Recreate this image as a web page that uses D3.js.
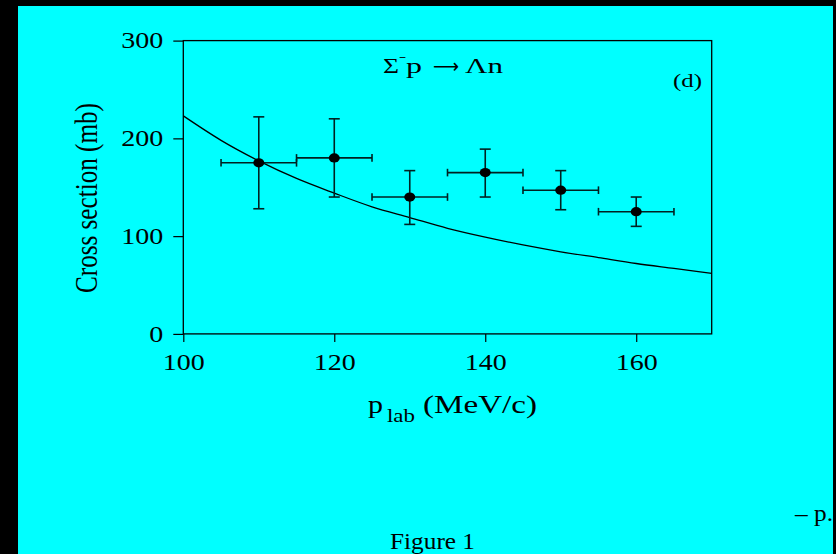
<!DOCTYPE html>
<html>
<head>
<meta charset="utf-8">
<script src="https://cdn.jsdelivr.net/npm/d3@7"></script>
<style>
  body { margin: 0; background: #000; }
  svg { display: block; }
  text { font-family: "Liberation Serif", "Times New Roman", serif; fill: #000; }
</style>
</head>
<body>
<div id="chart"></div>
<script>
// measured points (Sigma- p -> Lambda n)
const pLab = [110, 120, 130, 140, 150, 160];
const sigma = [175, 180, 140, 165, 147, 125];
const sigmaLow = [128, 140, 112, 140, 127, 110];
const sigmaHigh = [222, 220, 167, 189, 167, 140];
const binLow = [105, 115, 125, 135, 145, 155];
const binHigh = [115, 125, 135, 145, 155, 165];

// theory curve
const curveP = [100, 105, 110, 115, 120, 125, 130, 135, 140, 145, 150, 155, 160, 165, 170];
const curveSigma = [223, 198, 177, 159, 144, 130, 119, 108, 99, 91, 84, 78, 72, 67, 62];

const xTicks = [100, 120, 140, 160];
const yTicks = [0, 100, 200, 300];

function main() {
  var W = 836, H = 554;
  var left = 183.3, right = 711.7, top = 40.6, bottom = 333.9;

  var svg = d3.select("#chart")
    .append("svg")
    .attr("width", W)
    .attr("height", H);

  // black page with cyan panel
  svg.append("rect").attr("width", W).attr("height", H).attr("fill", "#000");
  svg.append("rect")
    .attr("x", 18).attr("y", 6)
    .attr("width", 833 - 18).attr("height", H - 6)
    .attr("fill", "#00ffff");

  var x = d3.scaleLinear().domain([100, 170]).range([left, right]);
  var y = d3.scaleLinear().domain([0, 300]).range([bottom, top]);

  // axes
  var gx = svg.append("g")
    .attr("transform", "translate(0," + bottom + ")")
    .call(d3.axisBottom(x).tickValues(xTicks).tickSize(8).tickSizeOuter(0).tickPadding(12).tickFormat(d3.format("d")));
  var gy = svg.append("g")
    .attr("transform", "translate(" + left + ",0)")
    .call(d3.axisLeft(y).tickValues(yTicks).tickSize(10).tickSizeOuter(0).tickPadding(10).tickFormat(d3.format("d")));

  [gx, gy].forEach(function(g) {
    g.attr("font-family", null).attr("font-size", null);
    g.select(".domain").remove();
    g.selectAll(".tick line").attr("stroke", "#000").attr("stroke-width", 1.2);
    g.selectAll(".tick text")
      .style("font-size", "23px")
      .attr("fill", "#000")
      .attr("textLength", function(d) { return String(d).length * 14; })
      .attr("lengthAdjust", "spacingAndGlyphs");
  });

  // frame
  svg.append("rect")
    .attr("x", left).attr("y", top)
    .attr("width", right - left).attr("height", bottom - top)
    .attr("fill", "none")
    .attr("stroke", "#000")
    .attr("stroke-width", 1.3);

  // theory curve
  var curve = curveP.map(function(p, i) { return [p, curveSigma[i]]; });
  svg.append("path")
    .datum(curve)
    .attr("fill", "none")
    .attr("stroke", "#000")
    .attr("stroke-width", 1.3)
    .attr("d", d3.line()
      .x(function(d) { return x(d[0]); })
      .y(function(d) { return y(d[1]); })
      .curve(d3.curveMonotoneX));

  // error bars + points
  var pts = pLab.map(function(p, i) {
    return { p: p, s: sigma[i], lo: sigmaLow[i], hi: sigmaHigh[i], pl: binLow[i], ph: binHigh[i] };
  });
  var g = svg.append("g")
    .attr("stroke", "#022")
    .attr("stroke-width", 1.6);
  var cap = 5.5, hcap = 3.8;
  pts.forEach(function(d) {
    g.append("line").attr("x1", x(d.p)).attr("x2", x(d.p)).attr("y1", y(d.lo)).attr("y2", y(d.hi));
    g.append("line").attr("x1", x(d.p) - cap).attr("x2", x(d.p) + cap).attr("y1", y(d.lo)).attr("y2", y(d.lo));
    g.append("line").attr("x1", x(d.p) - cap).attr("x2", x(d.p) + cap).attr("y1", y(d.hi)).attr("y2", y(d.hi));
    g.append("line").attr("x1", x(d.pl)).attr("x2", x(d.ph)).attr("y1", y(d.s)).attr("y2", y(d.s));
    g.append("line").attr("x1", x(d.pl)).attr("x2", x(d.pl)).attr("y1", y(d.s) - hcap).attr("y2", y(d.s) + hcap);
    g.append("line").attr("x1", x(d.ph)).attr("x2", x(d.ph)).attr("y1", y(d.s) - hcap).attr("y2", y(d.s) + hcap);
  });
  svg.append("g")
    .selectAll("ellipse")
    .data(pts)
    .enter()
    .append("ellipse")
    .attr("cx", function(d) { return x(d.p); })
    .attr("cy", function(d) { return y(d.s); })
    .attr("rx", 5.5)
    .attr("ry", 4.6)
    .attr("fill", "#000");

  // y label
  svg.append("text")
    .attr("transform", "translate(97,198) rotate(-90)")
    .attr("text-anchor", "middle")
    .style("font-size", "31px")
    .attr("textLength", 190)
    .attr("lengthAdjust", "spacingAndGlyphs")
    .text("Cross section (mb)");

  // x label
  svg.append("text").attr("x", 368).attr("y", 413).style("font-size", "25px")
    .attr("textLength", 15).attr("lengthAdjust", "spacingAndGlyphs").text("p");
  svg.append("text").attr("x", 387).attr("y", 422).style("font-size", "18px")
    .attr("textLength", 28).attr("lengthAdjust", "spacingAndGlyphs").text("lab");
  svg.append("text").attr("x", 423).attr("y", 413).style("font-size", "25px")
    .attr("textLength", 114).attr("lengthAdjust", "spacingAndGlyphs").text("(MeV/c)");

  // reaction label
  var t = svg.append("text").attr("y", 73).style("font-size", "22px");
  t.append("tspan").attr("x", 383).attr("textLength", 16).attr("lengthAdjust", "spacingAndGlyphs").text("Σ");
  t.append("tspan").attr("x", 399).attr("y", 63).style("font-size", "17px")
    .attr("textLength", 7).attr("lengthAdjust", "spacingAndGlyphs").text("−");
  t.append("tspan").attr("x", 406).attr("y", 73).attr("textLength", 16).attr("lengthAdjust", "spacingAndGlyphs").text("p");
  t.append("tspan").attr("x", 433).style("font-family", "'DejaVu Sans'").style("font-size", "20px")
    .attr("textLength", 26).attr("lengthAdjust", "spacingAndGlyphs").text("⟶");
  t.append("tspan").attr("x", 465).attr("textLength", 38).attr("lengthAdjust", "spacingAndGlyphs").text("Λn");

  svg.append("text").attr("x", 673).attr("y", 87).style("font-size", "18px")
    .attr("textLength", 29).attr("lengthAdjust", "spacingAndGlyphs").text("(d)");

  // page furniture
  svg.append("text").attr("x", 795).attr("y", 521).style("font-size", "24px")
    .attr("textLength", 38).attr("lengthAdjust", "spacingAndGlyphs").text("– p.");
  svg.append("text").attr("x", 390).attr("y", 549).style("font-size", "24px")
    .attr("textLength", 85).attr("lengthAdjust", "spacingAndGlyphs").text("Figure 1");
}
main();
</script>
</body>
</html>
